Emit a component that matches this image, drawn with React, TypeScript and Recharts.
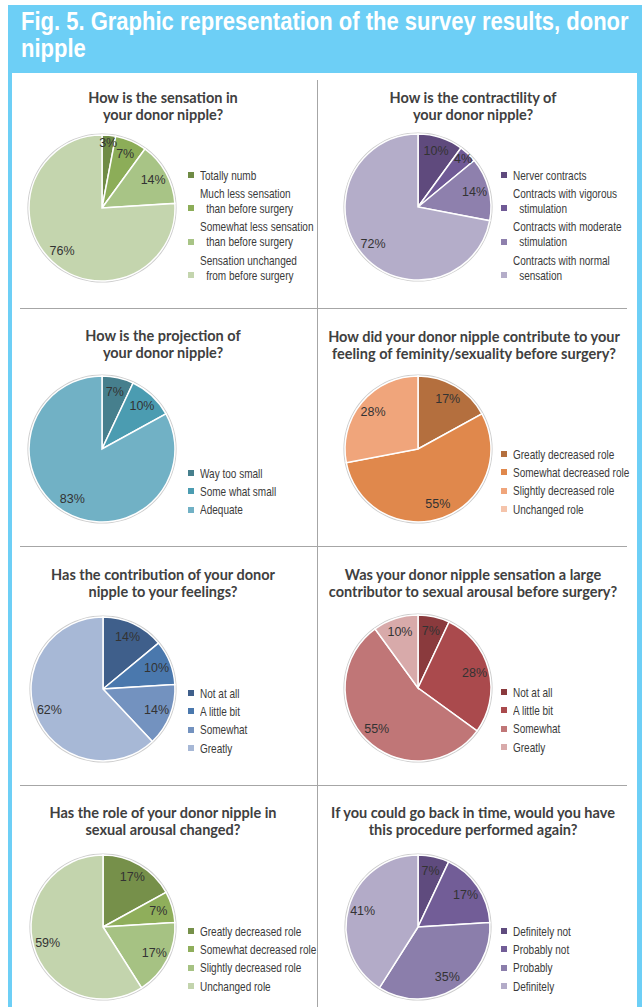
import React from "react";
import { PieChart, Pie, Cell } from "recharts";

// ---------- DATA ----------
const headerTitle = ["Fig. 5. Graphic representation of the survey results, donor", "nipple"];

const sensationTitle = ["How is the sensation in", "your donor nipple?"];
const sensationLabels = ["Totally numb", "Much less sensation\nthan before surgery", "Somewhat less sensation\nthan before surgery", "Sensation unchanged\nfrom before surgery"];
const sensationValues = [3, 7, 14, 76];

const contractTitle = ["How is the contractility of", "your donor nipple?"];
const contractLabels = ["Nerver contracts", "Contracts with vigorous\nstimulation", "Contracts with moderate\nstimulation", "Contracts with normal\nsensation"];
const contractValues = [10, 4, 14, 72];

const projectionTitle = ["How is the projection of", "your donor nipple?"];
const projectionLabels = ["Way too small", "Some what small", "Adequate"];
const projectionValues = [7, 10, 83];

const femininityTitle = ["How did your donor nipple contribute to your", "feeling of feminity/sexuality before surgery?"];
const femininityLabels = ["Greatly decreased role", "Somewhat decreased role", "Slightly decreased role", "Unchanged role"];
const femininityValues = [17, 55, 28, 0];

const feelingsTitle = ["Has the contribution of your donor", "nipple to your feelings?"];
const feelingsLabels = ["Not at all", "A little bit", "Somewhat", "Greatly"];
const feelingsValues = [14, 10, 14, 62];

const arousalTitle = ["Was your donor nipple sensation a large", "contributor to sexual arousal before surgery?"];
const arousalLabels = ["Not at all", "A little bit", "Somewhat", "Greatly"];
const arousalValues = [7, 28, 55, 10];

const roleTitle = ["Has the role of your donor nipple in", "sexual arousal changed?"];
const roleLabels = ["Greatly decreased role", "Somewhat decreased role", "Slightly decreased role", "Unchanged role"];
const roleValues = [17, 7, 17, 59];

const againTitle = ["If you could go back in time, would you have", "this procedure performed again?"];
const againLabels = ["Definitely not", "Probably not", "Probably", "Definitely"];
const againValues = [7, 17, 35, 41];

// ---------- STYLES ----------
const greensA = ["#6f8b45", "#8cad58", "#a8c486", "#c4d5ae"];
const purplesA = ["#5f4a7d", "#705a96", "#8e80ad", "#b4adc9"];
const teals = ["#467f8d", "#4b9cb1", "#71b1c5"];
const oranges = ["#b46f3e", "#e0884c", "#f0a57b", "#f5c4ab"];
const blues = ["#3f5f8b", "#4a78ad", "#7392bf", "#a7b8d6"];
const reds = ["#8a3a3d", "#aa4a4d", "#c07677", "#d8aaaa"];
const greensB = ["#76904a", "#8fae5b", "#a6c283", "#c3d4ad"];
const purplesB = ["#5f4b7e", "#725d97", "#8b7eab", "#b3abc8"];

const SANS = "'Liberation Sans', Arial, sans-serif";
const TITLEFONT = "Lato, 'Open Sans', sans-serif";

type Panel = {
  title: string[];
  labels: string[];
  values: number[];
  colors: string[];
  cx: number;
  cy: number;
  r: number;
  titleX: number;
  titleY: number;
  legendX: number;
  legendY: number;
};

const panels: Panel[] = [
  { title: sensationTitle, labels: sensationLabels, values: sensationValues, colors: greensA, cx: 102, cy: 208, r: 73, titleX: 163, titleY: 97, legendX: 200, legendY: 175 },
  { title: contractTitle, labels: contractLabels, values: contractValues, colors: purplesA, cx: 418, cy: 207, r: 73, titleX: 473, titleY: 97, legendX: 513, legendY: 175 },
  { title: projectionTitle, labels: projectionLabels, values: projectionValues, colors: teals, cx: 102, cy: 449, r: 73, titleX: 163, titleY: 335, legendX: 200, legendY: 473 },
  { title: femininityTitle, labels: femininityLabels, values: femininityValues, colors: oranges, cx: 418, cy: 449, r: 73, titleX: 474, titleY: 336, legendX: 513, legendY: 454 },
  { title: feelingsTitle, labels: feelingsLabels, values: feelingsValues, colors: blues, cx: 103, cy: 689, r: 72, titleX: 163, titleY: 574, legendX: 200, legendY: 693 },
  { title: arousalTitle, labels: arousalLabels, values: arousalValues, colors: reds, cx: 418, cy: 688, r: 73, titleX: 473, titleY: 574, legendX: 513, legendY: 692 },
  { title: roleTitle, labels: roleLabels, values: roleValues, colors: greensB, cx: 103, cy: 927, r: 72, titleX: 163, titleY: 812, legendX: 200, legendY: 931 },
  { title: againTitle, labels: againLabels, values: againValues, colors: purplesB, cx: 418, cy: 927, r: 72, titleX: 473, titleY: 812, legendX: 513, legendY: 931 },
];

const RAD = Math.PI / 180;

const renderLabel = (props: any) => {
  const { cx, cy, midAngle, outerRadius, value } = props;
  if (!value) return null;
  const f = value < 5 ? 0.9 : 0.8;
  const rr = outerRadius * f;
  const x = cx + rr * Math.cos(-midAngle * RAD);
  const y = cy + rr * Math.sin(-midAngle * RAD);
  return (
    <text x={x} y={y} textAnchor="middle" dominantBaseline="central" fill="#333" fontFamily={SANS} fontSize={12.5}>
      {value}%
    </text>
  );
};

const CHART = 170;

function PanelView({ p }: { p: Panel }) {
  const data = p.labels
    .map((l, i) => ({ name: l.replace("\n", " "), value: p.values[i], color: p.colors[i] }))
    .filter((d) => d.value > 0);
  return (
    <>
      <div
        style={{
          position: "absolute",
          left: p.titleX - 160,
          top: p.titleY - 8.5,
          width: 320,
          textAlign: "center",
          fontFamily: TITLEFONT,
          fontWeight: 700,
          fontSize: 14.5,
          lineHeight: "17px",
          color: "#404040",
          whiteSpace: "nowrap",
        }}
      >
        {p.title.map((t, i) => (
          <div key={i}>{t}</div>
        ))}
      </div>
      <div style={{ position: "absolute", left: p.cx - CHART / 2, top: p.cy - CHART / 2 }}>
        <PieChart width={CHART} height={CHART} margin={{ top: 0, right: 0, bottom: 0, left: 0 }}>
          <Pie
            data={[{ name: "edge", value: 1 }]}
            dataKey="value"
            cx={CHART / 2}
            cy={CHART / 2}
            outerRadius={p.r + 1.6}
            fill="#cdcdcd"
            stroke="none"
            isAnimationActive={false}
          />
          <Pie
            data={data}
            dataKey="value"
            cx={CHART / 2}
            cy={CHART / 2}
            outerRadius={p.r}
            startAngle={90}
            endAngle={-270}
            stroke="#ffffff"
            strokeWidth={1.5}
            label={renderLabel}
            labelLine={false}
            isAnimationActive={false}
          >
            {data.map((d, i) => (
              <Cell key={i} fill={d.color} />
            ))}
          </Pie>
        </PieChart>
      </div>
      <div
        style={{
          position: "absolute",
          left: p.legendX,
          top: p.legendY - 7.5,
          fontFamily: SANS,
          fontSize: 13,
          color: "#3a3a3a",
          whiteSpace: "nowrap",
        }}
      >
        {p.labels.map((l, i) => {
          const lines = l.split("\n");
          return (
            <div key={i} style={{ position: "relative", lineHeight: "15px", marginBottom: 3.4 }}>
              <div style={{ transform: "scaleX(0.77)", transformOrigin: "left center" }}>
                {lines.map((ln, j) => (
                  <div key={j} style={{ paddingLeft: j > 0 ? 8 : 0 }}>
                    {ln}
                  </div>
                ))}
              </div>
              <span
                style={{
                  position: "absolute",
                  left: -12,
                  bottom: 4.5,
                  width: 6,
                  height: 6,
                  background: p.colors[i],
                }}
              />
            </div>
          );
        })}
      </div>
    </>
  );
}

export default function App() {
  return (
    <div style={{ position: "absolute", left: 0, top: 0, width: 642, height: 1007, overflow: "hidden", background: "#fff" }}>
      <div style={{ position: "absolute", left: 8, top: 5, width: 634, height: 1002, background: "#6dcff6" }} />
      <div style={{ position: "absolute", left: 12, top: 73, width: 625, height: 934, background: "#fff" }} />
      <div
        style={{
          position: "absolute",
          left: 21,
          top: 8,
          color: "#fff",
          fontFamily: SANS,
          fontWeight: 700,
          fontSize: 25,
          lineHeight: "27px",
          whiteSpace: "nowrap",
          transform: "scaleX(0.88)",
          transformOrigin: "left top",
        }}
      >
        {headerTitle.map((t, i) => (
          <div key={i}>{t}</div>
        ))}
      </div>
      {[308, 546, 785].map((y) => (
        <div key={y} style={{ position: "absolute", left: 20, top: y, width: 607, height: 1, background: "#a6a6a6" }} />
      ))}
      <div style={{ position: "absolute", left: 317, top: 80, width: 1, height: 927, background: "#a6a6a6" }} />
      {panels.map((p, i) => (
        <PanelView key={i} p={p} />
      ))}
    </div>
  );
}
